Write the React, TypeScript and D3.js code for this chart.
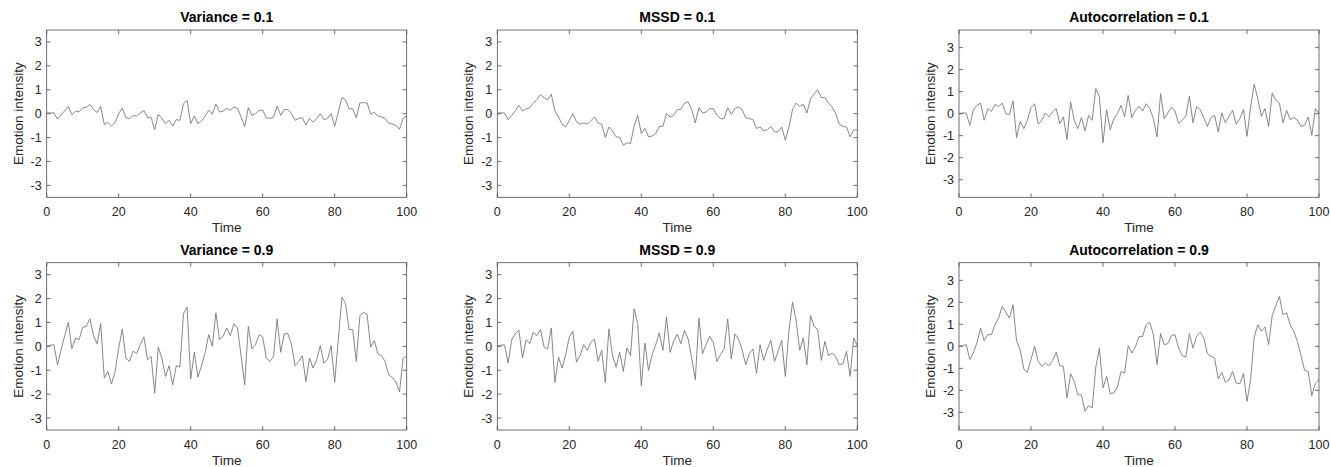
import React from "react";
import * as d3 from "d3";

// x ticks and y ticks shared by every panel
const timeTicks = [0, 20, 40, 60, 80, 100];
const intensityTicks = [-3, -2, -1, 0, 1, 2, 3];

// series, t = 0..100
const varianceLow = [
  0.02, 0.03, 0.03, -0.23, -0.05, 0.12, 0.3, -0.05, 0.1, 0.08, 0.25, 0.26, 0.38, 0.17, 0.05, 0.3, -0.45, -0.37, -0.52, -0.37,
  0.0, 0.23, -0.17, -0.2, -0.08, -0.1, 0.03, 0.13, -0.17, -0.15, -0.67, -0.03, -0.2, -0.42, -0.28, -0.52, -0.25, -0.28, 0.42, 0.55,
  -0.42, -0.1, -0.42, -0.3, -0.12, 0.15, -0.02, 0.4, 0.07, 0.1, 0.22, 0.14, 0.28, 0.22, -0.14, -0.55, 0.25, -0.07, 0.0, 0.14,
  0.14, -0.17, -0.2, -0.14, 0.32, -0.07, 0.17, 0.17, 0.0, -0.28, -0.2, -0.17, -0.48, -0.2, -0.35, -0.2, 0.0, -0.25, -0.2, 0.0,
  -0.53, 0.07, 0.67, 0.58, 0.2, 0.2, -0.17, 0.45, 0.46, 0.45, -0.03, 0.06, -0.1, -0.14, -0.2, -0.4, -0.43, -0.5, -0.65, -0.2,
  -0.1,
];
const varianceHigh = [
  0.0, 0.05, 0.07, -0.77, -0.15, 0.45, 1.0, -0.1, 0.35, 0.28, 0.8, 0.84, 1.16, 0.45, 0.11, 0.95, -1.33, -1.05, -1.58, -1.05,
  -0.07, 0.73, -0.5, -0.63, -0.2, -0.3, 0.07, 0.4, -0.56, -0.42, -1.96, -0.03, -0.5, -1.26, -0.81, -1.61, -0.81, -0.87, 1.37, 1.65,
  -1.37, -0.25, -1.29, -0.81, -0.28, 0.49, 0.0, 1.4, 0.28, 0.42, 0.77, 0.45, 0.95, 0.77, -0.4, -1.61, 0.84, -0.11, 0.07, 0.49,
  0.39, -0.49, -0.63, -0.42, 1.15, -0.25, 0.53, 0.53, 0.07, -0.81, -0.63, -0.39, -1.47, -0.49, -0.91, -0.56, 0.03, -0.7, -0.56, 0.03,
  -1.51, 0.28, 2.06, 1.79, 0.7, 0.7, -0.63, 1.29, 1.43, 1.33, -0.03, 0.24, -0.31, -0.39, -0.63, -1.19, -1.3, -1.5, -1.9, -0.5,
  -0.4,
];
const mssdLow = [
  0.02, 0.03, 0.03, -0.25, -0.08, 0.12, 0.35, 0.11, 0.2, 0.25, 0.44, 0.6, 0.79, 0.67, 0.58, 0.81, 0.11, -0.14, -0.44, -0.56,
  -0.28, 0.0, -0.35, -0.44, -0.39, -0.44, -0.3, -0.14, -0.39, -0.44, -1.0, -0.56, -0.72, -0.97, -1.0, -1.32, -1.22, -1.25, -0.53, -0.07,
  -0.83, -0.62, -0.97, -0.94, -0.83, -0.53, -0.53, 0.0, -0.14, -0.07, 0.17, 0.17, 0.44, 0.49, 0.17, -0.39, 0.25, 0.03, 0.07, 0.21,
  0.21, -0.07, -0.21, -0.21, 0.25, -0.03, 0.21, 0.28, 0.17, -0.17, -0.21, -0.25, -0.62, -0.56, -0.72, -0.67, -0.53, -0.76, -0.76, -0.56,
  -1.11, -0.58, 0.17, 0.44, 0.31, 0.39, 0.03, 0.62, 0.83, 1.0, 0.67, 0.67, 0.44, 0.28, 0.0, -0.44, -0.53, -0.56, -0.97, -0.69,
  -0.67,
];
const mssdHigh = [
  0.02, 0.05, 0.06, -0.7, 0.28, 0.53, 0.67, -0.49, 0.28, 0.11, 0.59, 0.45, 0.7, -0.03, -0.11, 0.77, -1.51, -0.45, -0.91, -0.35,
  0.39, 0.63, -0.66, -0.39, 0.07, -0.17, 0.17, 0.31, -0.63, -0.17, -1.51, 0.73, -0.39, -0.87, -0.25, -1.05, -0.07, -0.39, 1.57, 0.95,
  -1.65, 0.14, -1.01, -0.35, 0.07, 0.56, -0.17, 1.23, -0.25, 0.24, 0.5, 0.11, 0.66, 0.31, -0.49, -1.4, 1.19, -0.31, 0.07, 0.42,
  0.17, -0.63, -0.35, -0.11, 1.15, -0.53, 0.52, 0.31, -0.14, -0.77, -0.31, -0.11, -1.12, 0.07, -0.59, -0.11, 0.25, -0.63, -0.21, 0.25,
  -1.26, 0.63, 1.85, 1.09, -0.17, 0.35, -0.77, 1.29, 0.84, 0.7, -0.59, 0.21, -0.39, -0.28, -0.42, -0.77, -0.73, -0.21, -1.26, 0.35,
  0.03,
];
const autocorrLow = [
  0.0, 0.03, 0.03, -0.53, 0.18, 0.38, 0.48, -0.3, 0.23, 0.1, 0.42, 0.33, 0.48, 0.0, -0.05, 0.58, -1.09, -0.35, -0.68, -0.3,
  0.27, 0.45, -0.48, -0.3, 0.03, -0.15, 0.08, 0.23, -0.45, -0.15, -1.18, 0.53, -0.3, -0.68, -0.18, -0.79, -0.08, -0.3, 1.14, 0.76,
  -1.33, 0.18, -0.73, -0.23, 0.0, 0.38, -0.15, 0.83, -0.18, 0.15, 0.33, 0.12, 0.45, 0.23, -0.23, -1.06, 0.91, -0.23, 0.03, 0.3,
  0.12, -0.45, -0.3, -0.12, 0.79, -0.42, 0.33, 0.18, -0.18, -0.58, -0.18, -0.08, -0.83, 0.03, -0.42, -0.12, 0.15, -0.48, -0.23, 0.18,
  -1.03, 0.3, 1.33, 0.68, -0.12, 0.23, -0.58, 0.94, 0.61, 0.48, -0.42, 0.15, -0.27, -0.18, -0.3, -0.58, -0.53, -0.15, -0.98, 0.23,
  0.0,
];
const autocorrHigh = [
  0.0, 0.03, 0.08, -0.6, -0.3, 0.18, 0.83, 0.26, 0.53, 0.53, 0.98, 1.29, 1.82, 1.55, 1.29, 1.89, 0.23, -0.15, -1.03, -1.18,
  -0.6, 0.0, -0.68, -0.91, -0.76, -0.88, -0.64, -0.27, -0.88, -0.91, -2.35, -1.24, -1.59, -2.2, -2.2, -2.95, -2.7, -2.8, -0.94, -0.08,
  -1.89, -1.36, -2.15, -2.12, -1.85, -1.14, -1.21, 0.03, -0.3, -0.03, 0.45, 0.45, 0.98, 1.09, 0.53, -0.83, 0.58, 0.08, 0.12, 0.48,
  0.53, -0.08, -0.42, -0.48, 0.58, -0.08, 0.45, 0.64, 0.38, -0.33, -0.45, -0.53, -1.48, -1.18, -1.64, -1.52, -1.14, -1.67, -1.7, -1.24,
  -2.5, -1.52, 0.42, 0.98, 0.68, 0.88, 0.08, 1.39, 1.85, 2.27, 1.44, 1.52, 0.98, 0.68, 0.23, -0.42, -1.09, -1.14, -2.24, -1.67,
  -1.52,
];

const panelTitles = [
  "Variance = 0.1", "MSSD = 0.1", "Autocorrelation = 0.1",
  "Variance = 0.9", "MSSD = 0.9", "Autocorrelation = 0.9",
];
const panelSeries = [varianceLow, mssdLow, autocorrLow, varianceHigh, mssdHigh, autocorrHigh];
const panelLimits = [3.5, 3.5, 3.8, 3.5, 3.5, 3.8];

// layout (pixels)
const W = 1330;
const H = 467;
const colLeft = [46.7, 497.3, 959];
const rowTop = [30, 262.7];
const axW = 360;
const axH = 167.3;
const TICK = 4;
const FONT = "'Liberation Sans', Arial, Helvetica, sans-serif";
const INK = "#262626";
const AXIS = "#4d4d4d";

function Panel({ title, values, lim, left, top }) {
  const x = d3.scaleLinear().domain([0, 100]).range([left, left + axW]);
  const y = d3.scaleLinear().domain([-lim, lim]).range([top + axH, top]);
  const line = d3
    .line<number>()
    .x((d, i) => x(i))
    .y((d) => y(d));
  const bottom = top + axH;
  const right = left + axW;

  return (
    <g>
      <path d={line(values) || ""} fill="none" stroke="#7a7a7a" strokeWidth={0.9} strokeLinejoin="round" />
      {/* box */}
      <rect x={left} y={top} width={axW} height={axH} fill="none" stroke={AXIS} strokeWidth={0.8} />
      {/* x ticks, bottom and top, pointing in */}
      {timeTicks.map((t) => (
        <g key={"x" + t}>
          <line x1={x(t)} x2={x(t)} y1={bottom} y2={bottom - TICK} stroke={AXIS} strokeWidth={0.8} />
          <line x1={x(t)} x2={x(t)} y1={top} y2={top + TICK} stroke={AXIS} strokeWidth={0.8} />
          <text x={x(t)} y={bottom + 19} textAnchor="middle" fontSize={12.5} fill={INK} fontFamily={FONT}>
            {t}
          </text>
        </g>
      ))}
      {/* y ticks, left and right */}
      {intensityTicks.map((v) => (
        <g key={"y" + v}>
          <line x1={left} x2={left + TICK} y1={y(v)} y2={y(v)} stroke={AXIS} strokeWidth={0.8} />
          <line x1={right} x2={right - TICK} y1={y(v)} y2={y(v)} stroke={AXIS} strokeWidth={0.8} />
          <text x={left - 5} y={y(v) + 4.5} textAnchor="end" fontSize={12.5} fill={INK} fontFamily={FONT}>
            {v}
          </text>
        </g>
      ))}
      <text x={(left + right) / 2} y={top - 8} textAnchor="middle" fontSize={14} fontWeight="bold" fill="#000" fontFamily={FONT}>
        {title}
      </text>
      <text x={(left + right) / 2} y={bottom + 35} textAnchor="middle" fontSize={13.5} fill={INK} fontFamily={FONT}>
        Time
      </text>
      <text
        transform={`translate(${left - 24},${(top + bottom) / 2}) rotate(-90)`}
        textAnchor="middle"
        fontSize={13.5}
        fill={INK}
        fontFamily={FONT}
      >
        Emotion intensity
      </text>
    </g>
  );
}

export default function App() {
  return (
    <svg
      width={W}
      height={H}
      style={{ position: "absolute", left: 0, top: 0, background: "#fff", display: "block" }}
    >
      <rect width={W} height={H} fill="#fff" />
      {panelSeries.map((values, i) => (
        <Panel
          key={i}
          title={panelTitles[i]}
          values={values}
          lim={panelLimits[i]}
          left={colLeft[i % 3]}
          top={rowTop[Math.floor(i / 3)]}
        />
      ))}
    </svg>
  );
}
